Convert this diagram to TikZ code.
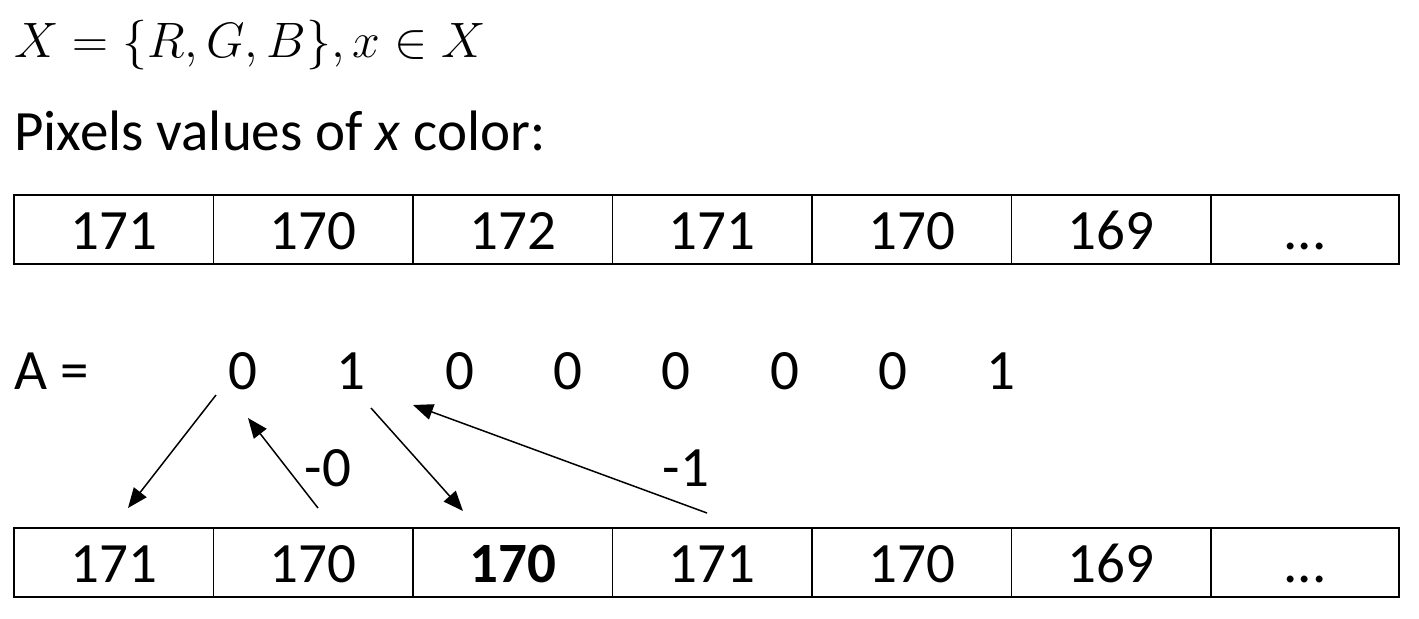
\documentclass[tikz,border=0pt]{standalone}
\usepackage{fontspec}
\setmainfont{Carlito}
\usetikzlibrary{arrows.meta}
\begin{document}
\begin{tikzpicture}[x=0.5pt,y=-0.5pt]
        \tikzstyle{cell}=[draw,line width=0.8pt,minimum width=99.75pt,minimum height=34.5pt,inner sep=0pt,text height=20pt,text depth=0pt,font=\fontsize{28.5}{34}\selectfont]
        \tikzstyle{txt}=[inner sep=0pt,text height=18pt,text depth=0pt,font=\fontsize{28.5}{34}\selectfont]
        \tikzstyle{arr}=[draw,line width=0.75pt,-{Triangle[length=10pt,width=8pt]}]
       \useasboundingbox (0,0) rectangle (1419,618);
       % header
       \node [anchor=base west,inner sep=0pt,font=\fontsize{27}{32}\selectfont] (set) at (14,57) {$X=\{R,G,B\},x\in X$};
       \node [anchor=base west,inner sep=0pt,font=\fontsize{28.5}{34}\selectfont] (title) at (14,150) {Pixels values of \textit{x} color:};
       % pixel rows
       \foreach \v [count=\i] in {171,170,172,171,170,169}
         \node [cell] (t\i) at ({14+199.5*(\i-0.5)},229.5) {\v};
       \node [cell,minimum width=94pt] (t7) at (1305,229.5) {.{}.{}.};
       \foreach \v [count=\i] in {171,170,{\textbf{170}},171,170,169}
         \node [cell] (b\i) at ({14+199.5*(\i-0.5)},562.5) {\v};
       \node [cell,minimum width=94pt] (b7) at (1305,562.5) {.{}.{}.};
       % bits
       \node [txt,anchor=west] (A) at (14,371) {A =};
       \foreach \v [count=\i] in {0,1,0,0,0,0,0,1}
         \node [txt] (a\i) at ({243+108.3*(\i-1)},371) {\v};
       \path[arr] ([shift={(-27,24)}]a1.center) -- ([shift={(14.25,-54.5)}]b1.center);
       \path[arr] ([shift={(4.75,-54.5)}]b2.center) -- ([shift={(5,47)}]a1.center);
       \path[arr] ([shift={(19.7,37)}]a2.center) -- ([shift={(-49.75,-51.5)}]b3.center);
       \path[arr] ([shift={(-5.25,-49.5)}]b4.center) -- ([shift={(61.7,34)}]a2.center);
       \node [txt] (d0) at (328,468) {-0};
       \node [txt] (d1) at (686,468) {-1};
      \end{tikzpicture}
\end{document}
